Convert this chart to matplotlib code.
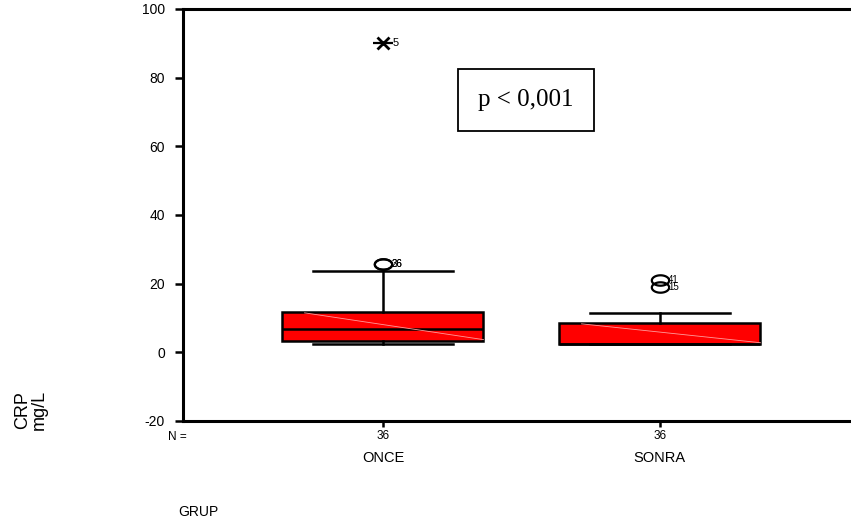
import matplotlib.pyplot as plt
import numpy as np
from matplotlib.path import Path

# box statistics (CRP mg/L)
groups = ["ONCE", "SONRA"]
n_counts = ["36", "36"]
q1 = [3.4, 2.5]
med = [6.9, 2.5]
q3 = [11.8, 8.6]
whislo = [2.5, 2.5]
whishi = [23.8, 11.5]
outliers = [[25.8, 25.6], [21.1, 19.1]]
outlier_ids = [["26", "36"], ["41", "15"]]
extremes = [[90.0], []]
extreme_ids = [["5"], []]
yticks = [-20, 0, 20, 40, 60, 80, 100]

plt.rcParams['font.family'] = ['Liberation Sans', 'DejaVu Sans']

fig = plt.figure(figsize=(8.51, 5.25), dpi=100)
ax = fig.add_axes([183 / 851, 104 / 525, 668 / 851, 412 / 525])

pos = [1, 2]
stats = []
for i in range(2):
    stats.append(dict(med=med[i], q1=q1[i], q3=q3[i], whislo=whislo[i],
                      whishi=whishi[i], fliers=[], label=groups[i]))

ax.bxp(stats, positions=pos, widths=0.726, patch_artist=True, showfliers=False,
       boxprops=dict(facecolor='#ff0000', edgecolor='black', linewidth=1.8),
       medianprops=dict(color='black', linewidth=1.8),
       whiskerprops=dict(color='black', linewidth=1.8),
       capprops=dict(color='black', linewidth=1.8),
       capwidths=0.505)

# faint diagonal sheen across each box
for i in range(2):
    x0, x1 = pos[i] - 0.363, pos[i] + 0.363
    ax.plot([x0 + 0.08, x1], [q3[i] - 0.3, q1[i] + 0.3], color='#ff9a9a', lw=0.6, zorder=3)

# outliers as flat ellipses
t = np.linspace(0, 2 * np.pi, 40)
ell = Path(np.column_stack([np.cos(t), 0.6 * np.sin(t)]))
for i in range(2):
    ax.plot([pos[i]] * len(outliers[i]), outliers[i], linestyle='none', marker=ell,
            markersize=12.5, markerfacecolor='none', markeredgecolor='black',
            markeredgewidth=1.6, zorder=4)
    for v, lab in zip(outliers[i], outlier_ids[i]):
        ax.text(pos[i] + 0.03, v, lab, fontsize=7, va='center', ha='left', zorder=5)
    for v, lab in zip(extremes[i], extreme_ids[i]):
        ax.plot(pos[i], v, marker='x', markersize=8, color='black', mew=2, zorder=4)
        ax.plot(pos[i], v, marker='_', markersize=14, color='black', mew=1.6, zorder=4)
        ax.text(pos[i] + 0.035, v, lab, fontsize=8, va='center', ha='left')

ax.set_xlim(0.278, 2.69)
ax.set_ylim(-20, 100)
ax.set_yticks(yticks)
ax.set_yticklabels([str(v) for v in yticks], fontsize=10)
ax.set_xticks(pos)
ax.set_xticklabels([])
ax.tick_params(axis='y', direction='out', length=6, width=1.8, pad=7)
ax.tick_params(axis='x', direction='out', length=4, width=1.8)
ax.spines['right'].set_visible(False)
for s in ['left', 'top', 'bottom']:
    ax.spines[s].set_linewidth(2.2)

# N = row and group labels
ax.text(-0.009, -0.024, "N =", transform=ax.transAxes, fontsize=8.5, ha='center', va='top')
for i in range(2):
    ax.text(pos[i], -22.6, n_counts[i], fontsize=8.5, ha='center', va='top')
    ax.text(pos[i], -28.8, groups[i], fontsize=10.5, ha='center', va='top')
ax.set_ylim(-20, 100)

fig.text(198 / 851, 1 - 512 / 525, "GRUP", fontsize=10, ha='center', va='center')
fig.text(31 / 851, 1 - 410 / 525, "CRP\nmg/L", fontsize=13, rotation=90,
         ha='center', va='center', linespacing=0.95)

ax.text(1.516, 73.5, "p < 0,001", fontsize=18, family='Liberation Serif',
        ha='center', va='center',
        bbox=dict(boxstyle='square,pad=0.8', facecolor='white', edgecolor='black', linewidth=1.3))

fig.savefig("out.png", dpi=100)
